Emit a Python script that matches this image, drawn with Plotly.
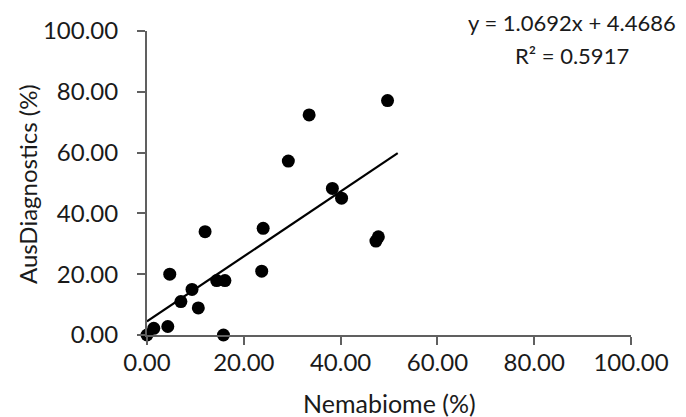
import plotly.graph_objects as go

# Data
nemabiome = [0.0, 1.4, 4.3, 4.7, 7.0, 9.3, 10.6, 12.0, 14.4, 16.1, 15.8,
             23.7, 24.0, 29.2, 33.5, 38.3, 40.2, 47.3, 47.8, 49.7]
ausdiag = [0.0, 2.2, 2.8, 20.0, 11.0, 15.0, 8.9, 34.0, 17.9, 17.9, 0.0,
           21.0, 35.1, 57.2, 72.4, 48.2, 45.0, 30.9, 32.3, 77.1]

slope = 1.0692
intercept = 4.4686
r2 = 0.5917
trend_x = [0.0, 51.8]
trend_y = [slope * v + intercept for v in trend_x]

tick_vals = [0, 20, 40, 60, 80, 100]
tick_text = ["0.00", "20.00", "40.00", "60.00", "80.00", "100.00"]

x_title = "Nemabiome (%)"
y_title = "AusDiagnostics (%)"

FONT = "Lato, Carlito, sans-serif"
TXT = "#1a1a1a"
AX = "#606060"

# page body has an 8px margin; compensate so the plot lands where the reference has it
OFF = 8
W, H = 686 - OFF, 417 - OFF
L, T = 147 - OFF, 31 - OFF
R = W - (631 - OFF)
B = H - (335 - OFF)
PW, PH = W - L - R, H - T - B


def px_x(p):
    return (p - OFF - L) / PW


def px_y(p):
    return (H - B - (p - OFF)) / PH


fig = go.Figure()
fig.add_trace(go.Scatter(x=trend_x, y=trend_y, mode="lines",
                         line=dict(color="#000000", width=2.2),
                         hoverinfo="skip", showlegend=False))
fig.add_trace(go.Scatter(x=nemabiome, y=ausdiag, mode="markers",
                         marker=dict(color="#000000", size=13),
                         cliponaxis=False, showlegend=False))

axis_common = dict(range=[0, 100], tickvals=tick_vals, ticktext=tick_text,
                   showgrid=False, zeroline=False, showline=True,
                   linecolor=AX, linewidth=2, ticks="outside", ticklen=8,
                   tickwidth=2, tickcolor=AX, automargin=False,
                   tickfont=dict(size=24, family=FONT, color=TXT))

fig.update_layout(
    width=W, height=H,
    margin=dict(l=L, r=R, t=T, b=B),
    paper_bgcolor="white", plot_bgcolor="white",
    font=dict(family=FONT, color=TXT, size=22),
    xaxis=dict(**axis_common, ticklabelstandoff=-3),
    yaxis=dict(**axis_common, ticklabelstandoff=14),
)

fig.add_annotation(xref="paper", yref="paper", x=px_x(389), y=px_y(403),
                   text=x_title, showarrow=False,
                   xanchor="center", yanchor="middle",
                   font=dict(size=25, family=FONT, color=TXT))
fig.add_annotation(xref="paper", yref="paper", x=px_x(27), y=px_y(184),
                   text=y_title, showarrow=False, textangle=-90,
                   xanchor="center", yanchor="middle",
                   font=dict(size=24, family=FONT, color=TXT))

fig.add_annotation(xref="paper", yref="paper", x=px_x(572), y=px_y(23),
                   text=f"y = {slope}x + {intercept}", showarrow=False,
                   xanchor="center", yanchor="middle",
                   font=dict(size=22, family=FONT, color=TXT))
fig.add_annotation(xref="paper", yref="paper", x=px_x(572), y=px_y(55),
                   text=f"R² = {r2}", showarrow=False,
                   xanchor="center", yanchor="middle",
                   font=dict(size=22, family=FONT, color=TXT))

fig.write_html("out.html")
